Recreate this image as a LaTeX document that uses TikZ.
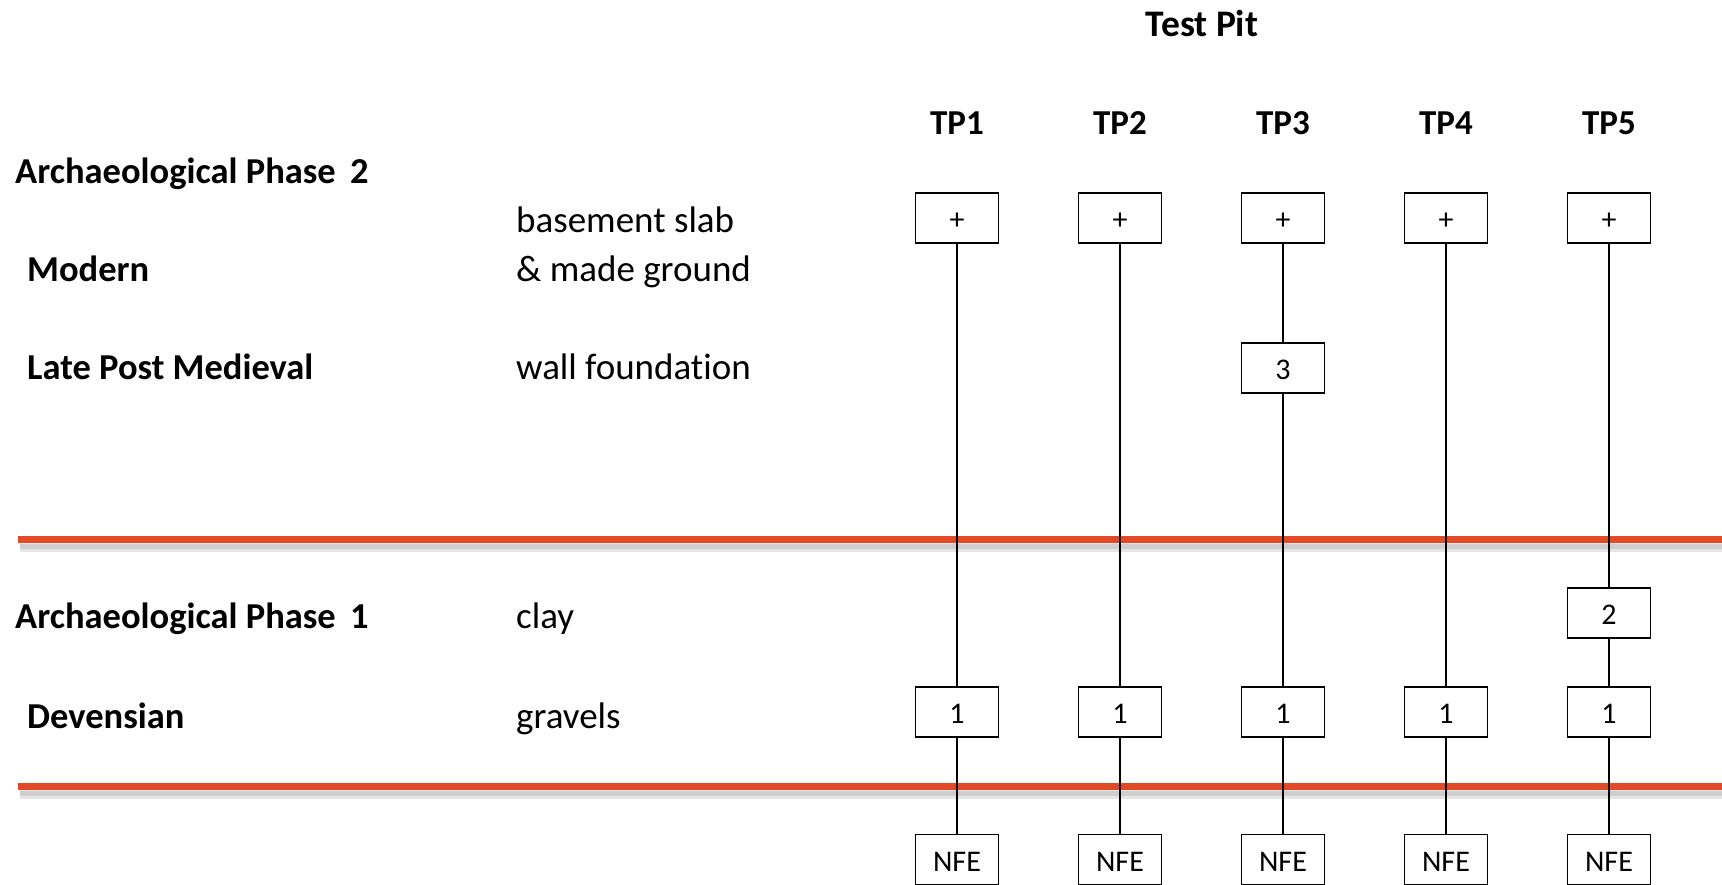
\documentclass[tikz,border=0pt]{standalone}
\usepackage{fontspec}
\setmainfont{Carlito}[Ligatures=NoCommon]
\definecolor{horizonred}{RGB}{226,74,38}
\begin{document}
\begin{tikzpicture}[x=1pt,y=-1pt,
  unit/.style={draw, line width=1.7pt, minimum width=83pt, minimum height=50pt,
    inner sep=0pt, text height=23pt, text depth=0pt,
    font=\fontsize{30}{36}\selectfont},
  heading/.style={font=\bfseries\fontsize{35}{42}\selectfont, inner sep=0pt, anchor=base},
  period/.style={font=\bfseries\fontsize{36.5}{44}\selectfont, inner sep=0pt, anchor=base west},
  deposit/.style={font=\fontsize{37}{44}\selectfont, inner sep=0pt, anchor=base west},
  link/.style={line width=1.6pt},
  horizon/.style={line width=7pt, horizonred},
  horizonshade/.style={line width=#1, black, opacity=0.10}
]
\useasboundingbox (0,0) rectangle (1722,885);

% stratigraphic horizons with a soft shadow
\foreach \y in {539,786} {
  \draw[horizonshade=10pt] (20,\y+8) -- (1722,\y+8);
  \draw[horizonshade=5pt] (20,\y+7) -- (1722,\y+7);
  \draw[horizon] (18,\y) -- (1722,\y);
}

% headings
\node[heading, font=\bfseries\fontsize{37.5}{44}\selectfont] (title) at (1202,37) {Test Pit};
\foreach \i/\x in {1/957,2/1120,3/1283,4/1446,5/1609} {
  \node[heading] (tp\i) at (\x,135) {TP\i};
  \node[unit] (p\i) at (\x,218) {+};
  \node[unit] (o\i) at (\x,712) {1};
  \node[unit] (n\i) at (\x,859.5) {NFE};
}
\node[unit] (u3) at (1283,368) {3};
\node[unit] (u5) at (1609,613) {2};

% periods and deposits
\node[period] (ap2) at (15,184) {Archaeological Phase\, 2};
\node[period] (mod) at (27,282) {Modern};
\node[period] (lpm) at (27,380) {Late Post Medieval};
\node[period] (ap1) at (15,628) {Archaeological Phase\, 1};
\node[period] (dev) at (27,728) {Devensian};
\node[deposit] (slab) at (516,233) {basement slab};
\node[deposit] (made) at (516,282) {\& made ground};
\node[deposit] (wall) at (516,380) {wall foundation};
\node[deposit] (clay) at (516,628) {clay};
\node[deposit] (grav) at (516,728) {gravels};

% sequences down each pit
\foreach \i in {1,2,4} \draw[link] (p\i) -- (o\i);
\draw[link] (p3) -- (u3);
\draw[link] (u3) -- (o3);
\draw[link] (p5) -- (u5);
\draw[link] (u5) -- (o5);
\foreach \i in {1,...,5} \draw[link] (o\i) -- (n\i);
\end{tikzpicture}
\end{document}
